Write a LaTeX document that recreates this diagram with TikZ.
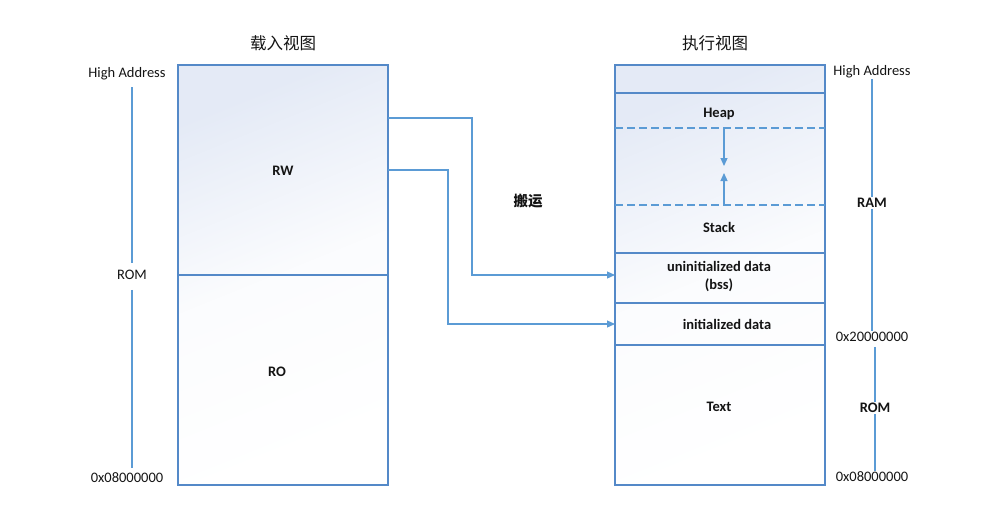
\documentclass[tikz,border=0pt]{standalone}
\usepackage{fontspec}
\setmainfont{Carlito}
\newfontfamily\cjk{Noto Sans CJK SC}
\usetikzlibrary{arrows.meta}
\definecolor{lineblue}{RGB}{91,155,213}
\definecolor{boxblue}{RGB}{84,137,200}
\definecolor{shadetop}{RGB}{228,234,246}
\definecolor{txt}{RGB}{20,20,20}
\begin{document}
\begin{tikzpicture}[x=1pt,y=-1pt,
  font=\fontsize{14.5}{18}\selectfont, text=txt,
  region/.style={draw=boxblue, line width=1.1pt, minimum width=210pt, anchor=north west, inner sep=0pt, outer sep=0pt},
  lbl/.style={inner sep=1pt},
  blbl/.style={inner sep=1pt, font=\fontsize{14.5}{18}\selectfont\bfseries},
  ttl/.style={inner sep=1pt, font=\fontsize{16.5}{20}\selectfont\cjk},
  axisline/.style={draw=lineblue, line width=1.2pt},
  conn/.style={draw=lineblue, line width=1.2pt, -{Triangle[length=8pt,width=7pt]}},
  dashline/.style={draw=lineblue, line width=1.2pt, dash pattern=on 8pt off 4pt}
]
\useasboundingbox (0,0) rectangle (1002,528);
% shading
\shade[top color=shadetop, bottom color=white, middle color=white!85!shadetop, shading angle=22] (178,65) rectangle (388,485);
\shade[top color=shadetop, bottom color=white, middle color=white!85!shadetop, shading angle=22] (615,65) rectangle (825,485);

% titles
\node[ttl] (t1) at (283,43) {载入视图};
\node[ttl] (t2) at (715,43) {执行视图};

% left box
\node[region, minimum height=210pt] (rw) at (178,65) {};
\node[region, minimum height=210pt] (ro) at (178,275) {};
\node[blbl] (rwl) at (283,171) {RW};
\node[blbl] (rol) at (277,372) {RO};

% right box
\node[region, minimum height=28pt] (top) at (615,65) {};
\node[region, minimum height=160pt] (hs) at (615,93) {};
\node[region, minimum height=50pt] (bss) at (615,253) {};
\node[region, minimum height=42pt] (init) at (615,303) {};
\node[region, minimum height=140pt] (text) at (615,345) {};
\node[blbl] (heapl) at (719,114) {Heap};
\node[blbl] (stackl) at (719,227) {Stack};
\node[blbl, align=center] (bssl) at (719,276) {uninitialized data\\(bss)};
\node[blbl] (initl) at (727,324) {initialized data};
\node[blbl] (textl) at (719,407) {Text};

% dashed boundaries and growth arrows
\coordinate (d1l) at (615,128); \coordinate (d1r) at (825,128);
\coordinate (d2l) at (615,205); \coordinate (d2r) at (825,205);
\draw[dashline] (d1l) -- (d1r);
\draw[dashline] (d2l) -- (d2r);
\coordinate (hs1) at (724,128); \coordinate (hs2) at (724,166);
\coordinate (st1) at (724,205); \coordinate (st2) at (724,173);
\draw[conn] (hs1) -- (hs2);
\draw[conn] (st1) -- (st2);

% copy connectors
\coordinate (c1) at (388,118);
\node[blbl, font=\fontsize{14.5}{18}\selectfont\cjk\bfseries] (move) at (528,201) {搬运};
\draw[conn] (c1) -- ++(84,0) |- (615,275);
\draw[conn] (rw.east) -- ++(60,0) |- (init.west);

% left axis
\node[lbl] (ha1) at (127,74) {High Address};
\node[lbl] (rom1) at (132,275) {ROM};
\node[lbl] (a08a) at (127,478) {0x08000000};
\draw[axisline, shorten <=6pt, shorten >=6pt] (ha1.south -| rom1) -- (rom1.north);
\draw[axisline, shorten <=9pt, shorten >=4pt] (rom1.south) -- (a08a.north -| rom1);

% right axis
\node[lbl] (ha2) at (872,72) {High Address};
\node[blbl] (ram) at (872,203) {RAM};
\node[lbl] (a20) at (872,337) {0x20000000};
\node[blbl] (rom2) at (875,408) {ROM};
\node[lbl] (a08b) at (872,477) {0x08000000};
\draw[axisline] (ha2.south) -- (ram.north);
\draw[axisline] (ram.south) -- (a20.north);
\draw[axisline, shorten <=4pt] (a20.south -| rom2) -- (rom2.north);
\draw[axisline] (rom2.south) -- (a08b.north -| rom2);
\end{tikzpicture}
\end{document}
